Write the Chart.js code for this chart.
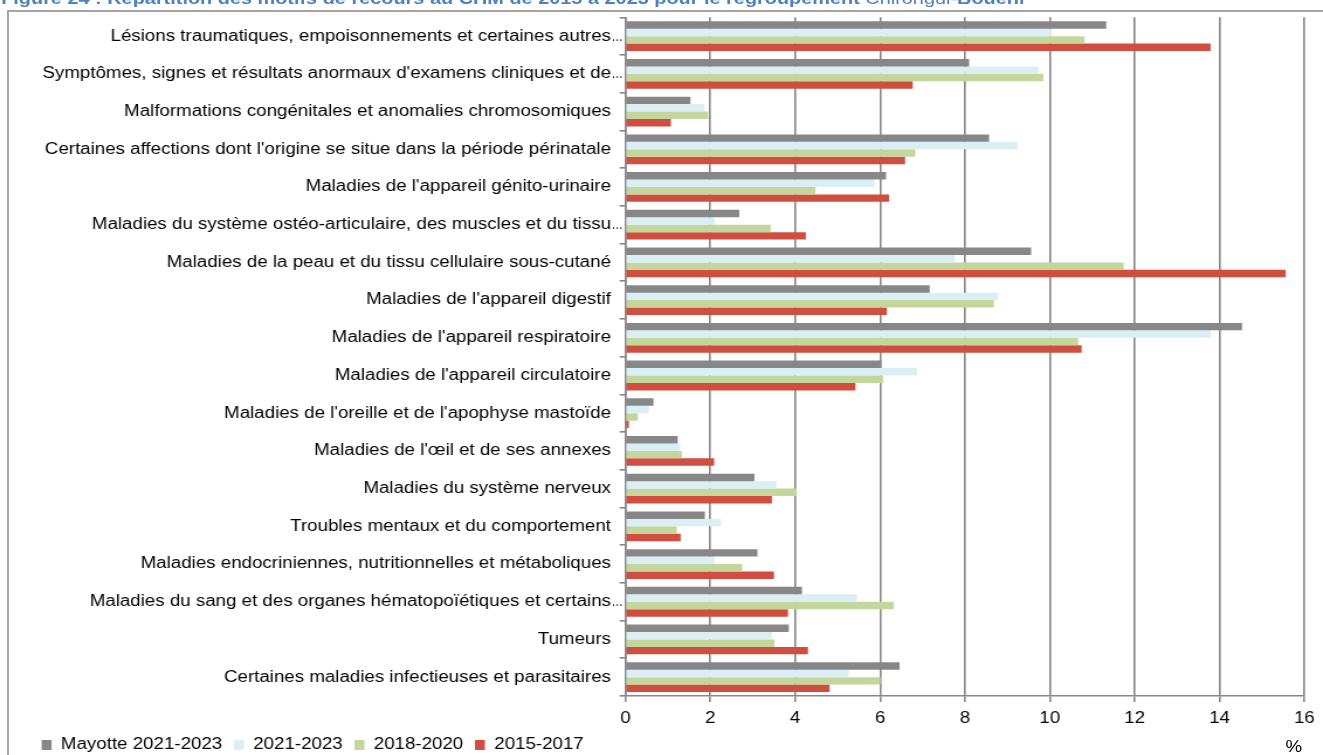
<!DOCTYPE html>
<html>
<head>
<meta charset="utf-8">
<script src="https://cdn.jsdelivr.net/npm/chart.js@4.4.0/dist/chart.umd.min.js"></script>
<style>
  body { margin: 0; background: #fff; overflow: hidden; width: 1323px; height: 755px; position: relative; }
  #frame { position: absolute; left: 7px; top: 10px; width: 1400px; height: 800px; border: 2px solid #a6a6a6; box-sizing: border-box; }
  /* the source picture is stretched sideways, so the whole chart is too */
  #stretch { position: absolute; left: 0; top: 0; width: 1131px; height: 763px; transform: scaleX(1.16976); transform-origin: 0 0; }
  #title { position: absolute; left: 1px; top: -9px; white-space: nowrap; font: bold 17px "Liberation Sans", Arial, sans-serif; line-height: 16px; color: #4f81bd; }
  #title span { font-weight: normal; }
  #unit { position: absolute; left: 1099px; top: 739px; font: 16px "Liberation Sans", Arial, sans-serif; line-height: 16px; color: #000; }
  canvas { position: absolute; left: 0; top: 0; }
</style>
</head>
<body>
<div id="frame"></div>
<div id="stretch">
  <div id="title">Figure 24 : Répartition des motifs de recours au CHM de 2015 à 2023 pour le regroupement <span>Chirongui-</span>Bouéni</div>
  <canvas id="myChart" width="1131" height="763"></canvas>
  <div id="unit">%</div>
</div>
<script>
const labelsMotif = [
  "Lésions traumatiques, empoisonnements et certaines autres…",
  "Symptômes, signes et résultats anormaux d'examens cliniques et de…",
  "Malformations congénitales et anomalies chromosomiques",
  "Certaines affections dont l'origine se situe dans la période périnatale",
  "Maladies de l'appareil génito-urinaire",
  "Maladies du système ostéo-articulaire, des muscles et du tissu…",
  "Maladies de la peau et du tissu cellulaire sous-cutané",
  "Maladies de l'appareil digestif",
  "Maladies de l'appareil respiratoire",
  "Maladies de l'appareil circulatoire",
  "Maladies de l'oreille et de l'apophyse mastoïde",
  "Maladies de l'œil et de ses annexes",
  "Maladies du système nerveux",
  "Troubles mentaux et du comportement",
  "Maladies endocriniennes, nutritionnelles et métaboliques",
  "Maladies du sang et des organes hématopoïétiques et certains…",
  "Tumeurs",
  "Certaines maladies infectieuses et parasitaires"
];

const mayotte2021 = [11.33, 8.10, 1.53, 8.57, 6.14, 2.68, 9.56, 7.17, 14.53, 6.03, 0.66, 1.23, 3.04, 1.87, 3.11, 4.16, 3.85, 6.46];
const periode2021 = [10.04, 9.73, 1.86, 9.24, 5.87, 2.10, 7.77, 8.78, 13.80, 6.87, 0.55, 1.29, 3.56, 2.25, 2.10, 5.46, 3.45, 5.26];
const periode2018 = [10.82, 9.85, 1.95, 6.83, 4.48, 3.42, 11.74, 8.68, 10.67, 6.07, 0.29, 1.33, 4.03, 1.21, 2.75, 6.32, 3.51, 6.01];
const periode2015 = [13.79, 6.77, 1.07, 6.59, 6.21, 4.25, 15.56, 6.16, 10.75, 5.42, 0.08, 2.09, 3.45, 1.30, 3.50, 3.83, 4.30, 4.81];

const xMin = 0;
const xMax = 16;
const xStep = 2;

Chart.defaults.font.family = '"Liberation Sans", Arial, sans-serif';
Chart.defaults.font.size = 16;
Chart.defaults.color = "#000";

// truncated labels: Excel lets the "…" spill into the tick padding, narrow
const ellipsisPlugin = {
  id: "ellipsis",
  afterDraw: function (chart) {
    const scale = chart.scales.y;
    const c = chart.ctx;
    c.save();
    c.font = '16px "Liberation Sans", Arial, sans-serif';
    c.fillStyle = "#000";
    c.textBaseline = "middle";
    c.textAlign = "left";
    labelsMotif.forEach(function (label, i) {
      if (label.endsWith("…")) {
        c.save();
        c.translate(scale.right - 12, scale.getPixelForTick(i));
        c.scale(0.62, 1);
        c.fillText("…", 0, 0);
        c.restore();
      }
    });
    c.restore();
  },
};

const ctx = document.getElementById("myChart");
const myChart = new Chart(ctx, {
  type: "bar",
  data: {
    labels: labelsMotif,
    datasets: [
      { label: "Mayotte 2021-2023", data: mayotte2021, backgroundColor: "#878787" },
      { label: "2021-2023", data: periode2021, backgroundColor: "#dbeef4" },
      { label: "2018-2020", data: periode2018, backgroundColor: "#c3d69b" },
      { label: "2015-2017", data: periode2015, backgroundColor: "#d04e3f" },
    ],
  },
  options: {
    indexAxis: "y",
    responsive: false,
    animation: false,
    barPercentage: 1,
    categoryPercentage: 0.79,
    layout: {
      padding: { left: 25.6, top: 17.3, right: 13.3, bottom: 0 },
    },
    scales: {
      x: {
        min: xMin,
        max: xMax,
        afterFit: function (scale) { scale.height = 31; },
        ticks: { stepSize: xStep, padding: 7, color: "#000" },
        grid: { color: "#878787", lineWidth: 1.6, tickLength: 6 },
        border: { color: "#878787", width: 1.6 },
      },
      y: {
        afterFit: function (scale) { scale.width = 509.1; },
        ticks: {
          padding: 7.4,
          color: "#000",
          autoSkip: false,
          callback: function (value) {
            return this.getLabelForValue(value).replace("…", "");
          },
        },
        grid: { drawOnChartArea: false, color: "#878787", lineWidth: 1.6, tickLength: 5 },
        border: { color: "#878787", width: 1.6 },
      },
    },
    plugins: {
      legend: {
        position: "bottom",
        align: "start",
        labels: { boxWidth: 8.5, boxHeight: 10, padding: 10, color: "#000" },
      },
      tooltip: { enabled: false },
    },
  },
  plugins: [ellipsisPlugin],
});
</script>
</body>
</html>
